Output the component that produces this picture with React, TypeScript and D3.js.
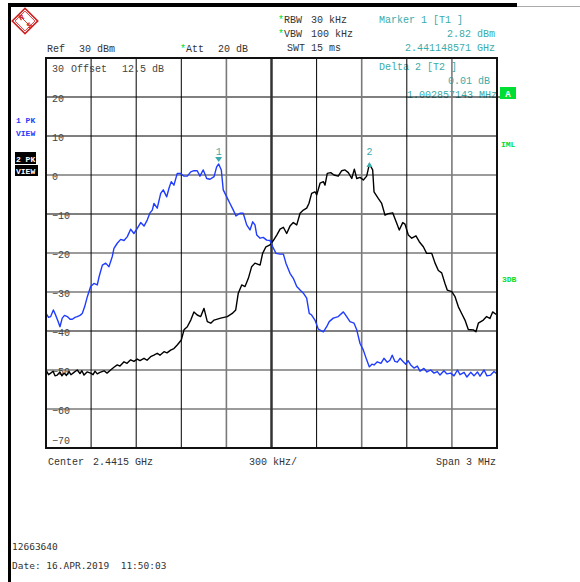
import * as d3 from 'd3'

// sweep 2.4400 .. 2.4430 GHz ; [MHz from start, dBm]
const trace1: [number, number][] = [
  [0.000, -35.5], [0.017, -36.5], [0.031, -36.3], [0.049, -34.6], [0.065, -36.0], [0.080, -37.5],
  [0.093, -38.9], [0.108, -36.7], [0.123, -36.0], [0.142, -36.3], [0.160, -37.0], [0.175, -37.0],
  [0.193, -36.5], [0.208, -36.3], [0.226, -36.0], [0.241, -35.5], [0.257, -33.8], [0.275, -31.2],
  [0.297, -28.6], [0.319, -27.8], [0.341, -28.2], [0.353, -26.1], [0.375, -23.1], [0.397, -22.6],
  [0.419, -23.5], [0.441, -20.9], [0.452, -18.8], [0.474, -17.5], [0.497, -16.5], [0.519, -16.8],
  [0.541, -15.8], [0.563, -13.9], [0.585, -15.0], [0.607, -13.7], [0.630, -12.2], [0.652, -13.1],
  [0.674, -11.5], [0.692, -9.7], [0.707, -9.0], [0.718, -7.3], [0.740, -8.5], [0.763, -4.7],
  [0.780, -3.8], [0.803, -5.6], [0.818, -3.4], [0.833, -1.7], [0.851, -2.6], [0.873, 0.4],
  [0.896, 0.4], [0.918, -0.3], [0.940, -0.3], [0.963, 0.8], [0.984, 1.1], [1.006, 1.1],
  [1.024, -0.3], [1.046, 1.3], [1.069, -0.9], [1.091, -1.1], [1.118, -0.4], [1.135, 2.1],
  [1.1486, 2.82], [1.166, 1.3], [1.179, -3.8], [1.202, -5.6], [1.224, -7.3], [1.246, -9.0],
  [1.264, -10.5], [1.290, -9.8], [1.312, -9.8], [1.335, -12.8], [1.357, -14.1], [1.375, -12.0],
  [1.390, -12.8], [1.402, -15.4], [1.424, -16.2], [1.445, -16.0], [1.468, -16.7], [1.490, -16.8],
  [1.508, -18.4], [1.530, -20.1], [1.557, -20.3], [1.579, -20.3], [1.596, -22.6], [1.623, -25.2],
  [1.645, -26.5], [1.668, -28.6], [1.690, -29.5], [1.712, -30.3], [1.734, -31.6], [1.751, -35.5],
  [1.767, -35.9], [1.789, -37.2], [1.811, -39.5], [1.845, -40.2], [1.867, -38.9], [1.884, -37.6],
  [1.911, -36.7], [1.944, -36.3], [1.978, -35.1], [2.000, -36.3], [2.022, -37.6], [2.049, -38.0],
  [2.067, -39.7], [2.089, -43.2], [2.111, -44.9], [2.133, -47.4], [2.151, -49.2], [2.168, -48.5],
  [2.182, -48.7], [2.204, -47.9], [2.228, -48.3], [2.248, -47.0], [2.270, -48.0], [2.288, -47.5],
  [2.303, -46.2], [2.321, -47.8], [2.337, -48.0], [2.355, -47.0], [2.370, -47.6], [2.393, -48.5],
  [2.408, -47.6], [2.426, -48.7], [2.448, -49.5], [2.470, -49.0], [2.488, -50.3], [2.514, -49.6],
  [2.534, -50.5], [2.559, -50.0], [2.581, -50.8], [2.603, -50.4], [2.621, -51.3], [2.647, -50.2],
  [2.667, -51.0], [2.692, -50.8], [2.714, -51.5], [2.737, -50.0], [2.754, -51.2], [2.781, -50.6],
  [2.800, -51.8], [2.825, -50.6], [2.847, -51.5], [2.870, -50.5], [2.887, -51.6], [2.914, -50.0],
  [2.933, -51.5], [2.958, -51.3], [2.980, -50.4], [3.000, -51.0],
]

const trace2: [number, number][] = [
  [0.000, -50.0], [0.017, -51.2], [0.031, -50.8], [0.047, -50.3], [0.060, -51.5], [0.075, -51.3],
  [0.093, -50.5], [0.106, -51.5], [0.120, -50.8], [0.136, -51.4], [0.153, -50.4], [0.166, -51.2],
  [0.186, -50.6], [0.208, -50.0], [0.226, -50.9], [0.239, -50.2], [0.253, -51.3], [0.273, -50.5],
  [0.297, -50.8], [0.313, -51.2], [0.326, -50.3], [0.341, -51.0], [0.359, -50.6], [0.386, -50.2],
  [0.406, -50.8], [0.430, -50.0], [0.452, -49.3], [0.474, -48.7], [0.492, -49.0], [0.519, -47.9],
  [0.539, -48.3], [0.563, -47.4], [0.585, -47.8], [0.607, -47.2], [0.625, -47.6], [0.652, -47.0],
  [0.672, -47.5], [0.696, -46.6], [0.718, -46.2], [0.740, -45.7], [0.758, -46.2], [0.785, -45.3],
  [0.805, -45.6], [0.829, -44.9], [0.851, -44.5], [0.873, -43.6], [0.900, -42.3], [0.918, -39.7],
  [0.940, -38.9], [0.963, -37.2], [0.984, -35.1], [1.006, -35.9], [1.029, -36.3], [1.051, -34.2],
  [1.073, -37.6], [1.096, -38.0], [1.118, -37.2], [1.162, -36.7], [1.206, -36.3], [1.239, -35.5],
  [1.262, -34.6], [1.279, -30.3], [1.302, -28.2], [1.324, -28.6], [1.346, -26.5], [1.368, -23.5],
  [1.390, -22.6], [1.424, -23.1], [1.441, -20.1], [1.463, -18.4], [1.490, -17.9], [1.512, -16.8],
  [1.535, -15.4], [1.557, -13.9], [1.579, -13.4], [1.601, -15.0], [1.623, -13.1], [1.645, -12.2],
  [1.668, -12.8], [1.690, -9.8], [1.712, -9.0], [1.734, -8.5], [1.749, -7.3], [1.767, -4.7],
  [1.789, -4.3], [1.801, -5.1], [1.823, -2.1], [1.845, -1.7], [1.856, -2.6], [1.871, 0.4],
  [1.894, 0.6], [1.916, 0.0], [1.944, -0.3], [1.967, 1.1], [1.989, 1.3], [2.011, 0.6],
  [2.034, -0.9], [2.051, 1.5], [2.067, -0.9], [2.089, -0.6], [2.111, -1.3], [2.133, -0.3],
  [2.1514, 2.83], [2.173, 1.3], [2.182, -4.3], [2.210, -6.0], [2.233, -7.3], [2.255, -10.3],
  [2.277, -9.9], [2.306, -9.7], [2.333, -12.4], [2.350, -14.1], [2.373, -12.2], [2.388, -12.6],
  [2.410, -15.4], [2.433, -16.2], [2.461, -15.6], [2.483, -17.1], [2.510, -18.4], [2.532, -20.1],
  [2.566, -20.1], [2.588, -22.6], [2.610, -24.5], [2.632, -25.1], [2.654, -27.8], [2.669, -29.5],
  [2.699, -29.9], [2.721, -31.2], [2.743, -33.8], [2.765, -35.5], [2.787, -37.2], [2.809, -39.6],
  [2.843, -39.7], [2.860, -40.2], [2.876, -38.0], [2.909, -37.2], [2.931, -36.3], [2.953, -36.8],
  [2.971, -35.1], [3.000, -35.9],
]

const levelTicks = [30, 20, 10, 0, -10, -20, -30, -40, -50, -60, -70]
const freqDivs = [0, 0.3, 0.6, 0.9, 1.2, 1.5, 1.8, 2.1, 2.4, 2.7, 3.0]
const grayLevels = [0, -20, -30, -50, -60]
const grayFreqs = [1.2, 2.1, 2.7]

const marker1 = { f: 1.148571, level: 2.82 }
const marker2 = { f: 1.148571 + 1.002857, level: 2.83 }

const MONO = '"Liberation Mono", "DejaVu Sans Mono", monospace'
const TXT = '#333'
const TEAL = '#3aabab'
const GREEN = '#00dd33'
const BLUE = '#1f3cff'

export default function App() {
  const x = d3.scaleLinear().domain([0, 3]).range([46, 497])
  const y = d3.scaleLinear().domain([-70, 30]).range([448, 58])
  const line = d3.line<[number, number]>().x(d => x(d[0])).y(d => y(d[1]))

  const m1x = x(marker1.f)
  const m1y = y(marker1.level)
  const m2x = x(marker2.f)
  const m2y = y(marker2.level)

  return (
    <svg width={580} height={582} style={{ position: 'absolute', left: 0, top: 0, background: '#fff' }}
      fontFamily={MONO}>
      <rect x={0} y={0} width={580} height={582} fill="#fff" />
      {/* outer border */}
      <rect x={8} y={3} width={3} height={579} fill="#000" />
      <rect x={8} y={3} width={509} height={4} fill="#000" />
      <line x1={517} x2={580} y1={6.5} y2={6.5} stroke="#aaa" strokeWidth={1} />

      {/* R&S logo */}
      <g transform="translate(25,21) rotate(45)" stroke="#cc2020" fill="none">
        <rect x={-9} y={-9} width={18} height={18} strokeWidth={1.6} />
        <rect x={-7} y={-7} width={14} height={14} strokeWidth={0.8} />
        <line x1={-7} x2={7} y1={0} y2={0} strokeWidth={0.8} />
      </g>
      <text x={21} y={20} fontSize={8} fontWeight="bold" fill="#cc2020" textAnchor="middle"
        transform="rotate(-30,21,17)">R</text>
      <text x={29} y={28} fontSize={8} fontWeight="bold" fill="#cc2020" textAnchor="middle"
        transform="rotate(-30,29,25)">S</text>

      {/* header */}
      <g fontSize={10} fill={TXT}>
        <text x={47} y={52}>Ref</text>
        <text x={79} y={52}>30 dBm</text>
        <text x={180} y={52} fill={GREEN}>*</text>
        <text x={186} y={52}>Att</text>
        <text x={218} y={52}>20 dB</text>
        <text x={278} y={23} fill={GREEN}>*</text>
        <text x={284} y={23}>RBW</text>
        <text x={311} y={23}>30 kHz</text>
        <text x={278} y={37} fill={GREEN}>*</text>
        <text x={284} y={37}>VBW</text>
        <text x={311} y={37}>100 kHz</text>
        <text x={287} y={51}>SWT</text>
        <text x={311} y={51}>15 ms</text>
      </g>
      <g fontSize={10} fill={TEAL}>
        <text x={379} y={23}>Marker 1 [T1 ]</text>
        <text x={495} y={37} textAnchor="end">2.82 dBm</text>
        <text x={495} y={51} textAnchor="end">2.441148571 GHz</text>
        <text x={379} y={70}>Delta 2 [T2 ]</text>
        <text x={490} y={84} textAnchor="end">0.01 dB</text>
        <text x={497} y={98} textAnchor="end">1.002857143 MHz</text>
      </g>
      <rect x={500} y={87} width={16} height={12} fill={GREEN} />
      <text x={508} y={97} fontSize={9} fill="#fff" textAnchor="middle" fontWeight="bold">A</text>

      {/* left trace labels */}
      <g fontSize={8} fontWeight="bold">
        <text x={16} y={123} fill={BLUE}>1 PK</text>
        <text x={16} y={136} fill={BLUE}>VIEW</text>
        <rect x={15} y={152} width={21} height={12} fill="#000" />
        <text x={16} y={162} fill="#fff">2 PK</text>
        <rect x={15} y={165} width={23} height={11} fill="#000" />
        <text x={16} y={174} fill="#fff">VIEW</text>
      </g>
      <g fontSize={8} fontWeight="bold" fill={GREEN}>
        <text x={501} y={147}>IML</text>
        <text x={502} y={282}>3DB</text>
      </g>

      {/* grid */}
      {levelTicks.slice(1, -1).map(v => {
        const gray = grayLevels.includes(v)
        return (
          <line key={'h' + v} x1={46} x2={v === 20 ? 500 : 497} y1={y(v)} y2={y(v)}
            stroke={gray ? '#7a7a7a' : '#000'} strokeWidth={gray ? 1.6 : 1} />
        )
      })}
      {freqDivs.slice(1, -1).map(f => {
        const gray = grayFreqs.includes(f)
        const center = f === 1.5
        return (
          <line key={'v' + f} x1={x(f)} x2={x(f)} y1={58} y2={448}
            stroke={center ? '#333' : gray ? '#7a7a7a' : '#000'}
            strokeWidth={center ? 2.5 : gray ? 1.6 : 1} />
        )
      })}

      {/* level labels */}
      <g fontSize={10} fill="#444">
        {levelTicks.map(v => (
          <text key={'l' + v} x={52} y={v === 30 ? 72 : v === -70 ? 444 : y(v) + 5}>
            {v < 0 ? '\u2212' + Math.abs(v) : String(v)}
          </text>
        ))}
        <text x={71} y={72}>Offset</text>
        <text x={122} y={72}>12.5 dB</text>
      </g>

      {/* traces */}
      <path d={line(trace2) ?? ''} fill="none" stroke="#000" strokeWidth={1.4} strokeLinejoin="round" />
      <path d={line(trace1) ?? ''} fill="none" stroke={BLUE} strokeWidth={1.4} strokeLinejoin="round" />

      {/* markers */}
      <path d={`M${m1x - 3.5},${m1y - 7} L${m1x + 3.5},${m1y - 7} L${m1x},${m1y - 2} Z`} fill={TEAL} />
      <text x={m1x} y={m1y - 9} fontSize={10} fill={TEAL} textAnchor="middle">1</text>
      <path d={`M${m2x - 3},${m2y + 3} L${m2x + 3},${m2y + 3} L${m2x},${m2y - 2} Z`} fill={TEAL} />
      <text x={m2x} y={m2y - 9} fontSize={10} fill={TEAL} textAnchor="middle">2</text>

      {/* frame */}
      <rect x={46} y={58} width={451} height={390} fill="none" stroke="#111" strokeWidth={2} />

      {/* footer */}
      <g fontSize={10} fill={TXT}>
        <text x={48} y={465}>Center</text>
        <text x={93} y={465}>2.4415 GHz</text>
        <text x={249} y={465}>300 kHz/</text>
        <text x={496} y={465} textAnchor="end">Span 3 MHz</text>
      </g>
      <g fontSize={9.5} fill={TXT} fontFamily='"DejaVu Sans Mono", monospace'>
        <text x={12} y={550}>12663640</text>
        <text x={12} y={569} xmlSpace="preserve">Date: 16.APR.2019  11:50:03</text>
      </g>
    </svg>
  )
}
